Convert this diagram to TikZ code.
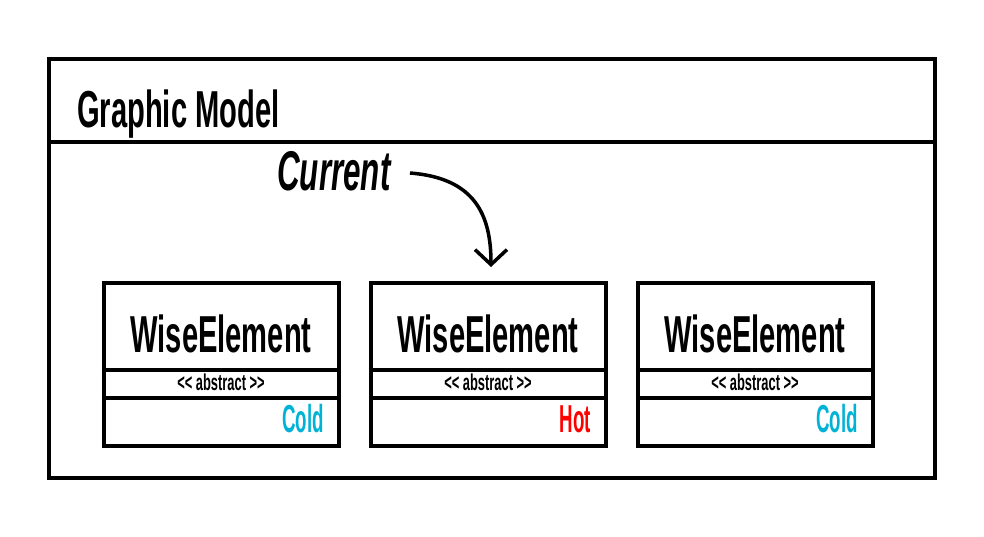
\documentclass[tikz,border=0pt]{standalone}
\usepackage{fontspec}
\usetikzlibrary{arrows.meta}
\newfontfamily\condfont[FakeStretch=0.56]{Liberation Sans}
\newfontfamily\tagfont[FakeStretch=0.48]{Liberation Sans}
\definecolor{coldc}{RGB}{0,178,214}
\definecolor{hotc}{RGB}{255,0,0}
\tikzset{
  frame/.style={draw=black, line width=4pt, fill=white},
  elembox/.style={draw=black, line width=4pt, minimum width=235pt, minimum height=163pt, inner sep=0pt},
  divider/.style={line width=3.5pt},
  bigtxt/.style={font=\condfont\bfseries\fontsize{52}{52}\selectfont, inner sep=0pt},
  smalltxt/.style={font=\condfont\bfseries\fontsize{23}{23}\selectfont, inner sep=0pt},
  tagtxt/.style={font=\tagfont\bfseries\fontsize{39}{39}\selectfont, inner sep=0pt, anchor=east},
  curve/.style={line width=3.5pt, -{Straight Barb[length=15pt,width=32pt,line width=3.5pt]}},
}
\begin{document}
\begin{tikzpicture}[x=1pt,y=-1pt]
\useasboundingbox[fill=white] (0,0) rectangle (984,536);
\node[frame, minimum width=886pt, minimum height=419pt, inner sep=0pt] (outer) at (491.5,268) {};
\coordinate (hl) at (48,142);
\coordinate (hr) at (935,142);
\draw[line width=3.5pt] (hl) -- (hr);
\node[bigtxt, anchor=base west] (title) at (77,127) {Graphic Model};
\node[bigtxt, anchor=base west, font=\condfont\bfseries\itshape\fontsize{56}{56}\selectfont] (cur) at (277,190) {Current};
\foreach \i/\cx/\tag/\col in {1/221/Cold/coldc, 2/488/Hot/hotc, 3/755/Cold/coldc}{
  \node[elembox] (b\i) at (\cx,364) {};
  \draw[divider] (b\i.west |- 0,370) -- (b\i.east |- 0,370);
  \draw[divider] (b\i.west |- 0,398) -- (b\i.east |- 0,398);
  \node[bigtxt, anchor=base] (n\i) at (\cx,352) {WiseElement};
  \node[smalltxt, anchor=base] (a\i) at (\cx,390) {<{}< abstract >{}>};
  \node[tagtxt, anchor=base east, text=\col] (t\i) at (\cx+103,432) {\tag};
}
\coordinate (cs) at (410,173);
\coordinate (ce) at (491,267);
\draw[curve] (cs) .. controls (475,178) and (491,215) .. (ce);
\end{tikzpicture}
\end{document}
